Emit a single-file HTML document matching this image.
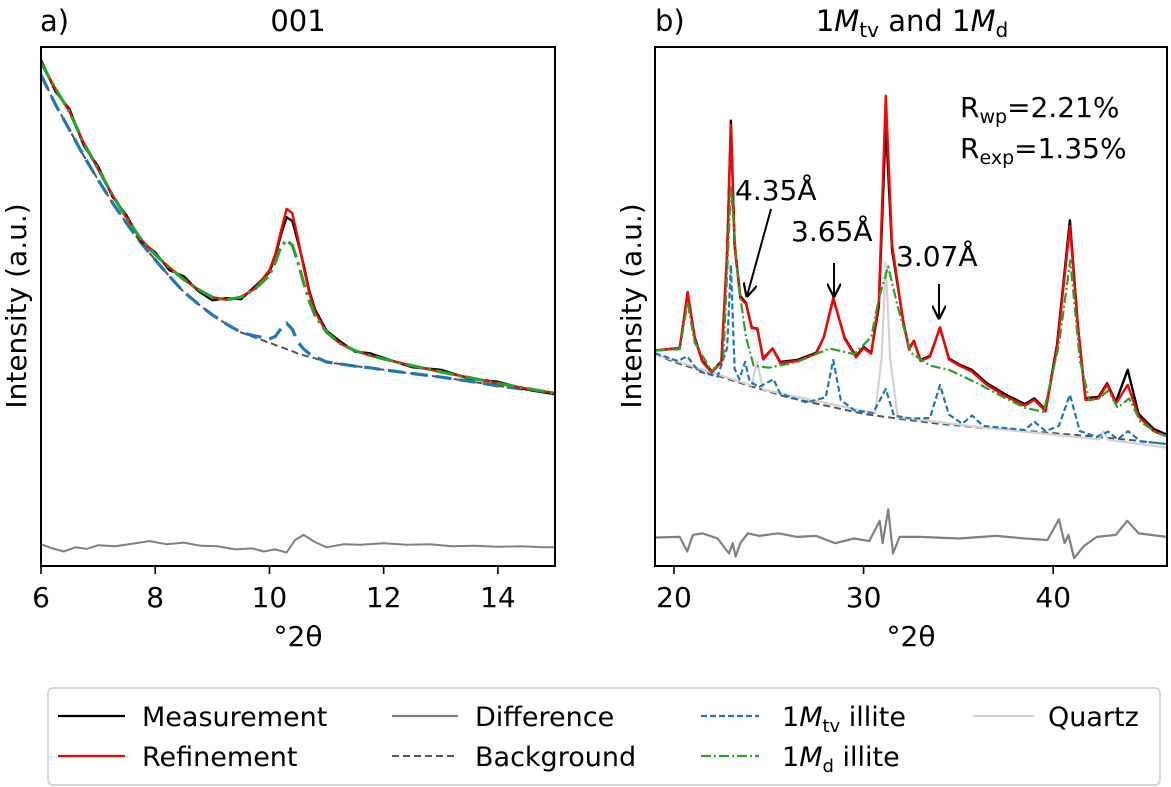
<!DOCTYPE html>
<html><head><meta charset="utf-8">
<style>
html,body{margin:0;padding:0;background:#fff;}
svg{display:block;font-family:"DejaVu Sans","Liberation Sans",sans-serif;}
</style></head>
<body>
<svg id="chart" width="1171" height="787" viewBox="0 0 1171 787">
<defs>
<marker id="ah" viewBox="0 0 10 10" refX="9" refY="5" markerWidth="7" markerHeight="7" orient="auto"><path d="M0,0 L10,5 L0,10" fill="none" stroke="#000" stroke-width="1.6"/></marker>
</defs>
<g id="pa"></g>
<g id="pb"></g>
<text x="40" y="31" font-size="29">a)</text>
<text x="298" y="31" font-size="29" text-anchor="middle">001</text>
<text x="655" y="31" font-size="29">b)</text>
<text x="912" y="31" font-size="29" text-anchor="middle">1<tspan font-style="italic">M</tspan><tspan font-size="20" dy="6">tv</tspan><tspan dy="-6"> and 1</tspan><tspan font-style="italic">M</tspan><tspan font-size="20" dy="6">d</tspan></text>
<text x="298" y="646" font-size="28" text-anchor="middle">°2θ</text>
<text x="911" y="646" font-size="28" text-anchor="middle">°2θ</text>
<text transform="translate(26,306) rotate(-90)" font-size="28" text-anchor="middle">Intensity (a.u.)</text>
<text transform="translate(641,306) rotate(-90)" font-size="28" text-anchor="middle">Intensity (a.u.)</text>
<text x="960" y="117" font-size="28">R<tspan font-size="19" dy="6">wp</tspan><tspan dy="-6">=2.21%</tspan></text>
<text x="960" y="158" font-size="28">R<tspan font-size="19" dy="6">exp</tspan><tspan dy="-6">=1.35%</tspan></text>
<text x="735" y="200" font-size="28">4.35Å</text>
<line x1="771" y1="209" x2="747" y2="296" stroke="#000" stroke-width="2" marker-end="url(#ah)"/>
<text x="791" y="241" font-size="28">3.65Å</text>
<line x1="834" y1="263" x2="834" y2="296" stroke="#000" stroke-width="2" marker-end="url(#ah)"/>
<text x="896" y="266" font-size="28">3.07Å</text>
<line x1="939" y1="284" x2="939" y2="318" stroke="#000" stroke-width="2" marker-end="url(#ah)"/>
<g>
<rect x="48" y="688" width="1112" height="97" rx="5" fill="#fff" stroke="#ccc" stroke-width="1.5"/>
<line x1="58" y1="716" x2="125" y2="716" stroke="#000" stroke-width="2.2"/>
<text x="142" y="726" font-size="27">Measurement</text>
<line x1="58" y1="756" x2="125" y2="756" stroke="#ff0000" stroke-width="2.2"/>
<text x="142" y="766" font-size="27">Refinement</text>
<line x1="392" y1="716" x2="458" y2="716" stroke="#808080" stroke-width="2.2"/>
<text x="475" y="726" font-size="27">Difference</text>
<line x1="392" y1="756" x2="458" y2="756" stroke="#555" stroke-width="2" stroke-dasharray="7,4"/>
<text x="475" y="766" font-size="27">Background</text>
<line x1="701" y1="716" x2="759" y2="716" stroke="#1f77b4" stroke-width="2.2" stroke-dasharray="6,3"/>
<text x="782" y="726" font-size="27">1<tspan font-style="italic">M</tspan><tspan font-size="18" dy="6">tv</tspan><tspan dy="-6"> illite</tspan></text>
<line x1="701" y1="756" x2="759" y2="756" stroke="#2ca02c" stroke-width="2.2" stroke-dasharray="10,3,2,3"/>
<text x="782" y="766" font-size="27">1<tspan font-style="italic">M</tspan><tspan font-size="18" dy="6">d</tspan><tspan dy="-6"> illite</tspan></text>
<line x1="973" y1="716" x2="1034" y2="716" stroke="#d3d3d3" stroke-width="2.2"/>
<text x="1048" y="726" font-size="27">Quartz</text>
</g>
</svg>
<script>
// ---------- Panel a data ----------
const aX = [6,6.25,6.5,6.75,7,7.25,7.5,7.75,8,8.25,8.5,8.75,9,9.25,9.5,9.75,10,10.1,10.2,10.3,10.4,10.5,10.6,10.7,10.8,11,11.25,11.5,11.75,12,12.5,13,13.5,14,14.5,15];
const aBackground = [94.6,89,84,79,74.4,70,66,62.3,59,55.8,52.8,50.5,48.4,46.6,45,44,43,42.6,42.2,41.8,41.4,40.9,40.6,40.3,40,39.3,38.9,38.5,38.2,37.8,37.1,36.4,35.6,34.7,34,33.3];
const aTv = [94.6,89,84,79,74.4,70,66,62.3,59,55.8,52.8,50.5,48.4,46.6,45,44.3,43.8,44.2,45.7,46.8,45.6,43.1,41.8,40.9,40.3,39.3,38.9,38.5,38.2,37.8,37.1,36.4,35.6,34.7,34,33.3];
const aRefinement = [97,92,87.5,81.5,76.5,71.5,67,63,60,57.5,55.2,53.3,51.8,51.3,51.8,53.5,57,60,64.5,68.8,68,63,57.5,52.5,49,45,42.8,41.5,40.6,39.9,38.6,37.4,36.3,35.2,34.2,33.3];
const aMd = [97,92,87.5,81.5,76.5,71.5,67,63,60,57.5,55.2,53.3,51.8,51.3,51.8,53.4,56,58.5,61.5,62.8,61.8,58.5,54.5,51,48.2,45,42.8,41.5,40.6,39.9,38.6,37.4,36.3,35.2,34.2,33.3];
const aMeasurement = [97.5,91.5,88,81,77,71.2,67.5,62.6,60.4,57,55.8,53,51.2,51.6,51.4,53.9,56.6,59.6,63.8,67.2,66.5,62.4,58,52.9,49.4,45.3,43.2,41.3,41,40.1,38.3,37.8,36.1,35.5,34,33.1];
const aDiffX = [6,6.2,6.4,6.6,6.8,7,7.3,7.6,7.9,8.2,8.5,8.8,9.1,9.4,9.7,9.9,10.1,10.3,10.45,10.6,10.8,11,11.3,11.6,12,12.4,12.8,13.2,13.6,14,14.4,14.8,15];
const aDifference = [4.2,3.4,2.8,3.6,3.3,4,3.8,4.3,4.8,4.2,4.5,3.9,3.8,3.2,3.4,2.8,3.2,2.6,5,6,4.6,3.6,4.2,4.1,4.4,4.1,4.2,3.8,3.9,3.7,3.8,3.6,3.6];
const aTicks = [6,8,10,12,14];

// ---------- Panel b data ----------
const bMeasX = [19,20.3,20.72,21.1,21.5,22,22.5,22.8,23,23.2,23.5,23.8,24.1,24.4,24.7,25.2,25.6,26.5,27.5,27.9,28.4,29,29.6,30,30.4,30.8,31.17,31.5,32.1,32.4,32.65,33,33.5,34.03,34.5,35,35.7,36.5,37.5,38.5,39,39.6,40.2,40.88,41.3,41.7,42.4,42.84,43.3,43.93,44.5,45.3,46];
const bMeasurement = [41.5,42,52.6,44,39.5,37.5,39.5,60,85.8,62,52,50.7,46,45.6,40,41.9,39.3,39.7,41.1,44.1,51.5,44,40.4,42.2,41.1,50,85.4,61,47,41.9,43.4,39.7,40.5,45.9,40,38.9,37.8,35.2,33,31.2,32.3,30.1,42.6,66.6,46.3,32.3,32.6,35.2,31.6,37.8,29.3,26.4,25.3];
const bRefinement = [41.5,42,52.8,43.8,39.3,37.3,39.3,60.5,85,61.5,51.6,50.5,45.8,45.8,39.8,41.9,39.1,39.5,40.9,44.1,51.7,43.8,40.2,42,40.9,51,90.6,62,46.8,41.7,43.4,39.5,40.3,46,39.8,38.7,37.5,34.9,32.7,30.9,32,29.8,42,65.5,46,32,32.3,35,31.3,34.9,28.8,26,25];
const bMdX = [19,20.3,20.72,21.1,22,22.6,23,23.4,23.8,24.2,25,26.5,28.2,29.5,30.4,30.8,31.3,31.8,32.5,33.5,34.5,36,37.5,38.5,39.5,40.3,40.9,41.4,41.9,42.4,42.9,43.4,44,44.6,45.5,46];
const bMd = [41.5,41.8,50.7,43,37.5,40,72.9,54.4,44.1,38.6,38.2,39.3,41.9,40.8,44.1,51.5,57.7,50,41.1,38.6,37.8,35.2,32.3,30.5,29.7,42.6,58.9,39.7,31.9,32.3,33.8,30.5,32.3,27.8,25.6,25];
const bTvX = [19,20.2,20.7,21.3,22.3,22.8,23,23.2,23.45,23.75,24,24.5,25.25,25.6,27,28,28.4,28.8,29.5,30.5,31.17,31.6,32.5,33.5,34.03,34.5,35.2,35.72,36.3,38.5,39,39.6,40.3,40.88,41.4,42.3,42.9,43.4,43.95,44.6,46];
const bTv = [41,39.5,40.4,37.5,36.5,42,58,38,36,39.3,35.5,34.5,36,33.2,31.5,32.5,39.7,32,30,29.5,34.1,29,28.4,28.5,34.9,29.2,27.4,29,27,26.2,27.8,26,27,33,26,24.9,25.9,24.4,26,24,23.5];
const bBgX = [19,20,22,24,26,28,30,32,34,36,38,40,42,44,46];
const bBackground = [40.8,39.3,37,34.7,32.5,30.9,29.3,28.3,27.4,26.7,26.2,25.6,25,24.3,23.5];
const bQzX = [19,24.1,24.38,24.7,30.6,30.95,31.17,31.4,31.8,36,42.4,42.65,42.9,46];
const bQuartz = [40.8,34.8,39.3,34,29.4,40,58.5,40,28.7,26.8,24.4,26,24.3,22.8];
const bDiffX = [19,20.3,20.7,21,21.5,22.3,22.9,23.1,23.25,23.5,23.9,24.5,25.5,26.5,27.5,28.5,29.5,30.3,30.85,31,31.3,31.55,31.9,33,35,37,38.5,39.7,40.3,40.6,40.8,41.1,41.6,42.3,43.3,43.9,44.5,46];
const bDifference = [5.5,5.6,2.8,6,6.3,5.3,2.4,4.4,1.8,4.4,6.3,5.8,6.3,5.6,5.8,4.4,5.3,4.8,8.7,4.4,10.9,2.4,5.6,5.6,5.3,5.8,5.3,5,9,4.4,6,1.5,3.8,5.6,6,8.7,6.3,5.6];
const bTicks = [20,30,40];

const NS = "http://www.w3.org/2000/svg";
const TOP = 47, BOT = 566;
function yScale(v){ return BOT - v*(BOT-TOP)/100; }
function makeX(d0,d1,p0,p1){ return v => p0 + (v-d0)*(p1-p0)/(d1-d0); }

function line(g, xs, ys, sx, color, width, dash, name){
  const p = document.createElementNS(NS,'path');
  let d = '';
  for(let i=0;i<xs.length;i++){ d += (i?'L':'M') + sx(xs[i]).toFixed(1) + ',' + yScale(ys[i]).toFixed(1); }
  p.setAttribute('d', d);
  p.setAttribute('fill','none');
  p.setAttribute('stroke', color);
  p.setAttribute('stroke-width', width);
  p.setAttribute('stroke-linejoin','round');
  if(dash) p.setAttribute('stroke-dasharray', dash);
  
  
  g.appendChild(p);
}
function frame(g, x0, x1, ticks, sx, prefix){
  const r = document.createElementNS(NS,'rect');
  r.setAttribute('x', x0); r.setAttribute('y', TOP); r.setAttribute('width', x1-x0); r.setAttribute('height', BOT-TOP);
  r.setAttribute('fill','none'); r.setAttribute('stroke','#000'); r.setAttribute('stroke-width','2');
  
  
  g.appendChild(r);
  ticks.forEach(t => {
    const x = sx(t);
    const l = document.createElementNS(NS,'line');
    l.setAttribute('x1', x); l.setAttribute('x2', x); l.setAttribute('y1', BOT); l.setAttribute('y2', BOT+8);
    l.setAttribute('stroke','#000'); l.setAttribute('stroke-width','1.6');
    
    
    g.appendChild(l);
    const tx = document.createElementNS(NS,'text');
    tx.setAttribute('x', x); tx.setAttribute('y', 607);
    tx.setAttribute('font-size','28'); tx.setAttribute('text-anchor','middle');
    tx.textContent = t;
    
    
    g.appendChild(tx);
  });
}

// Panel a
const ga = document.getElementById('pa');
const sxa = makeX(6,15,41,555);
line(ga, aDiffX, aDifference, sxa, '#808080', 2, null, 'difference-a');
line(ga, aX, aBackground, sxa, '#555', 2, '7,4', 'background-a');
line(ga, aX, aTv, sxa, '#1f77b4', 3.2, '16,8', 'illite-1mtv-a');
line(ga, aX, aMeasurement, sxa, '#000', 2.4, null, 'measurement-a');
line(ga, aX, aRefinement, sxa, '#ff0000', 2.4, null, 'refinement-a');
line(ga, aX, aMd, sxa, '#2ca02c', 3.2, '18,5,3,5', 'illite-1md-a');
frame(ga, 41, 555, aTicks, sxa, 'panel-a');

// Panel b
const gb = document.getElementById('pb');
const sxb = makeX(19,46,655,1167);
line(gb, bDiffX, bDifference, sxb, '#808080', 2.2, null, 'difference-b');
line(gb, bBgX, bBackground, sxb, '#555', 2, '7,4', 'background-b');
line(gb, bQzX, bQuartz, sxb, '#d3d3d3', 2.2, null, 'quartz-b');
line(gb, bTvX, bTv, sxb, '#1f77b4', 2.2, '6,3', 'illite-1mtv-b');
line(gb, bMeasX, bMeasurement, sxb, '#000', 2.4, null, 'measurement-b');
line(gb, bMeasX, bRefinement, sxb, '#ff0000', 2.4, null, 'refinement-b');
line(gb, bMdX, bMd, sxb, '#2ca02c', 2.2, '10,3,2,3', 'illite-1md-b');
frame(gb, 655, 1167, bTicks, sxb, 'panel-b');
</script>
</body></html>
